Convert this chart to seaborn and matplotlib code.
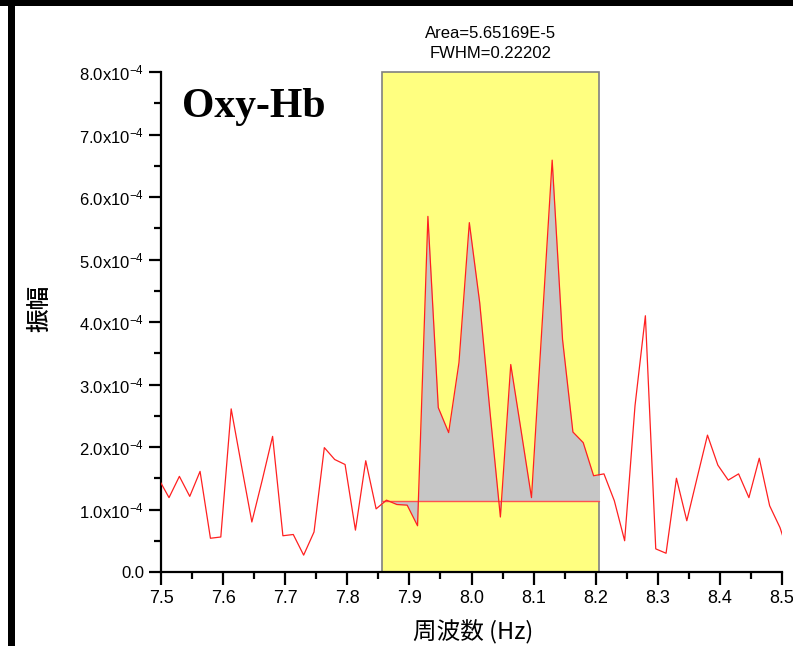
import matplotlib
matplotlib.use("Agg")
import matplotlib.pyplot as plt
import matplotlib.patches as mpatches
from matplotlib.ticker import MultipleLocator, FuncFormatter
import seaborn as sns
import pandas as pd

# spectrum (Hz, amplitude in units of 1e-4)
freq = [7.4962, 7.5129, 7.5296, 7.5463, 7.5629, 7.5796, 7.5963, 7.6130, 7.6296, 7.6463,
        7.6630, 7.6797, 7.6963, 7.7130, 7.7297, 7.7464, 7.7630, 7.7797, 7.7964, 7.8131,
        7.8297, 7.8464, 7.8631, 7.8798, 7.8964, 7.9131, 7.9298, 7.9465, 7.9632, 7.9798,
        7.9965, 8.0132, 8.0299, 8.0465, 8.0632, 8.0799, 8.0966, 8.1132, 8.1299, 8.1466,
        8.1633, 8.1799, 8.1966, 8.2133, 8.2300, 8.2466, 8.2633, 8.2800, 8.2967, 8.3133,
        8.3300, 8.3467, 8.3634, 8.3800, 8.3967, 8.4134, 8.4301, 8.4467, 8.4634, 8.4801,
        8.4968, 8.5134]
amp = [1.49, 1.19, 1.53, 1.21, 1.61, 0.54, 0.56, 2.61, 1.70, 0.80,
       1.47, 2.17, 0.58, 0.60, 0.27, 0.64, 1.99, 1.80, 1.72, 0.67,
       1.78, 1.01, 1.15, 1.08, 1.07, 0.74, 5.69, 2.63, 2.23, 3.35,
       5.59, 4.31, 2.55, 0.88, 3.32, 2.26, 1.19, 3.88, 6.59, 3.72,
       2.24, 2.07, 1.54, 1.57, 1.14, 0.50, 2.66, 4.10, 0.37, 0.30,
       1.50, 0.82, 1.51, 2.19, 1.71, 1.47, 1.57, 1.19, 1.82, 1.06,
       0.71, 0.20]

# integration window and baseline
win_lo, win_hi = 7.8554, 8.2058
base = 1.14
area_txt = "Area=5.65169E-5"
fwhm_txt = "FWHM=0.22202"

df = pd.DataFrame({"freq": freq, "amp": [a * 1e-4 for a in amp]})

sns.set_style("ticks")
plt.rcParams["font.family"] = ["Liberation Sans", "Noto Sans CJK JP", "DejaVu Sans"]
plt.rcParams["mathtext.fontset"] = "custom"
plt.rcParams["mathtext.rm"] = "Liberation Sans"
plt.rcParams["mathtext.it"] = "Liberation Sans:italic"
plt.rcParams["mathtext.bf"] = "Liberation Sans:bold"
for k in ["text.color", "axes.labelcolor", "xtick.color", "ytick.color", "axes.edgecolor"]:
    plt.rcParams[k] = "black"

fig = plt.figure(figsize=(7.93, 6.46), dpi=100)
ax = fig.add_axes([161 / 793, 1 - 572 / 646, 621 / 793, 500 / 646])

# yellow window
rect = mpatches.Rectangle((win_lo, 0), win_hi - win_lo, 8e-4, facecolor="#ffff80",
                          edgecolor="#808080", lw=1.2, zorder=1, clip_on=False)
ax.add_patch(rect)

# grey area between curve and baseline, clipped to the window
fill = ax.fill_between(df["freq"], df["amp"], base * 1e-4, interpolate=True,
                       color="#c6c6c6", lw=0, zorder=2)
clip = mpatches.Rectangle((win_lo, 0), win_hi - win_lo, 8e-4, transform=ax.transData)
fill.set_clip_path(clip)
ax.plot([win_lo, win_hi], [base * 1e-4, base * 1e-4], color="#ff5050", lw=1, zorder=3)

sns.lineplot(data=df, x="freq", y="amp", color="#ff2020", lw=0.9, ax=ax, zorder=4)

ax.set_xlim(7.5, 8.5)
ax.set_ylim(0, 8e-4)
ax.xaxis.set_major_locator(MultipleLocator(0.1))
ax.xaxis.set_minor_locator(MultipleLocator(0.05))
ax.yaxis.set_major_locator(MultipleLocator(1e-4))
ax.yaxis.set_minor_locator(MultipleLocator(0.5e-4))
ax.xaxis.set_major_formatter(FuncFormatter(lambda v, p: f"{v:.1f}"))
ax.yaxis.set_major_formatter(FuncFormatter(
    lambda v, p: "0.0" if abs(v) < 1e-9 else f"{v * 1e4:.1f}x10$^{{-4}}$"))

sns.despine(ax=ax)
for s in ["left", "bottom"]:
    ax.spines[s].set_linewidth(1.6)
    ax.spines[s].set_color("black")
ax.tick_params(which="major", length=9, width=1.6, color="black", labelcolor="black")
ax.tick_params(which="minor", length=5, width=1.6, color="black")
ax.tick_params(axis="x", labelsize=13, pad=4)
ax.tick_params(axis="y", labelsize=12, pad=3)
ax.set_xlabel("")
ax.set_ylabel("")

ax.text(0.034, 0.91, "Oxy-Hb", transform=ax.transAxes, family="Liberation Serif",
        fontweight="bold", fontsize=30, va="baseline", ha="left", color="black")

cx = (win_lo + win_hi) / 2
ax.text(cx, 8e-4 + 0.62e-4, area_txt, ha="center", va="center", fontsize=12, clip_on=False)
ax.text(cx, 8e-4 + 0.30e-4, fwhm_txt, ha="center", va="center", fontsize=12, clip_on=False)

fig.text(473 / 793, 1 - 632 / 646, "周波数 (Hz)", ha="center", va="center", fontsize=17,
         family=["Noto Sans CJK JP", "DejaVu Sans"])
fig.text(40 / 793, 1 - 308 / 646, "振幅", ha="center", va="center", fontsize=17,
         rotation=90, family=["Noto Sans CJK JP", "DejaVu Sans"], fontweight="medium")

# black frame at top and left
fig.add_artist(mpatches.Rectangle((0, 1 - 6 / 646), 1, 6 / 646, transform=fig.transFigure,
                                  color="black", lw=0))
fig.add_artist(mpatches.Rectangle((8 / 793, 0), 7 / 793, 1, transform=fig.transFigure,
                                  color="black", lw=0))

fig.savefig("out.png", dpi=100)
